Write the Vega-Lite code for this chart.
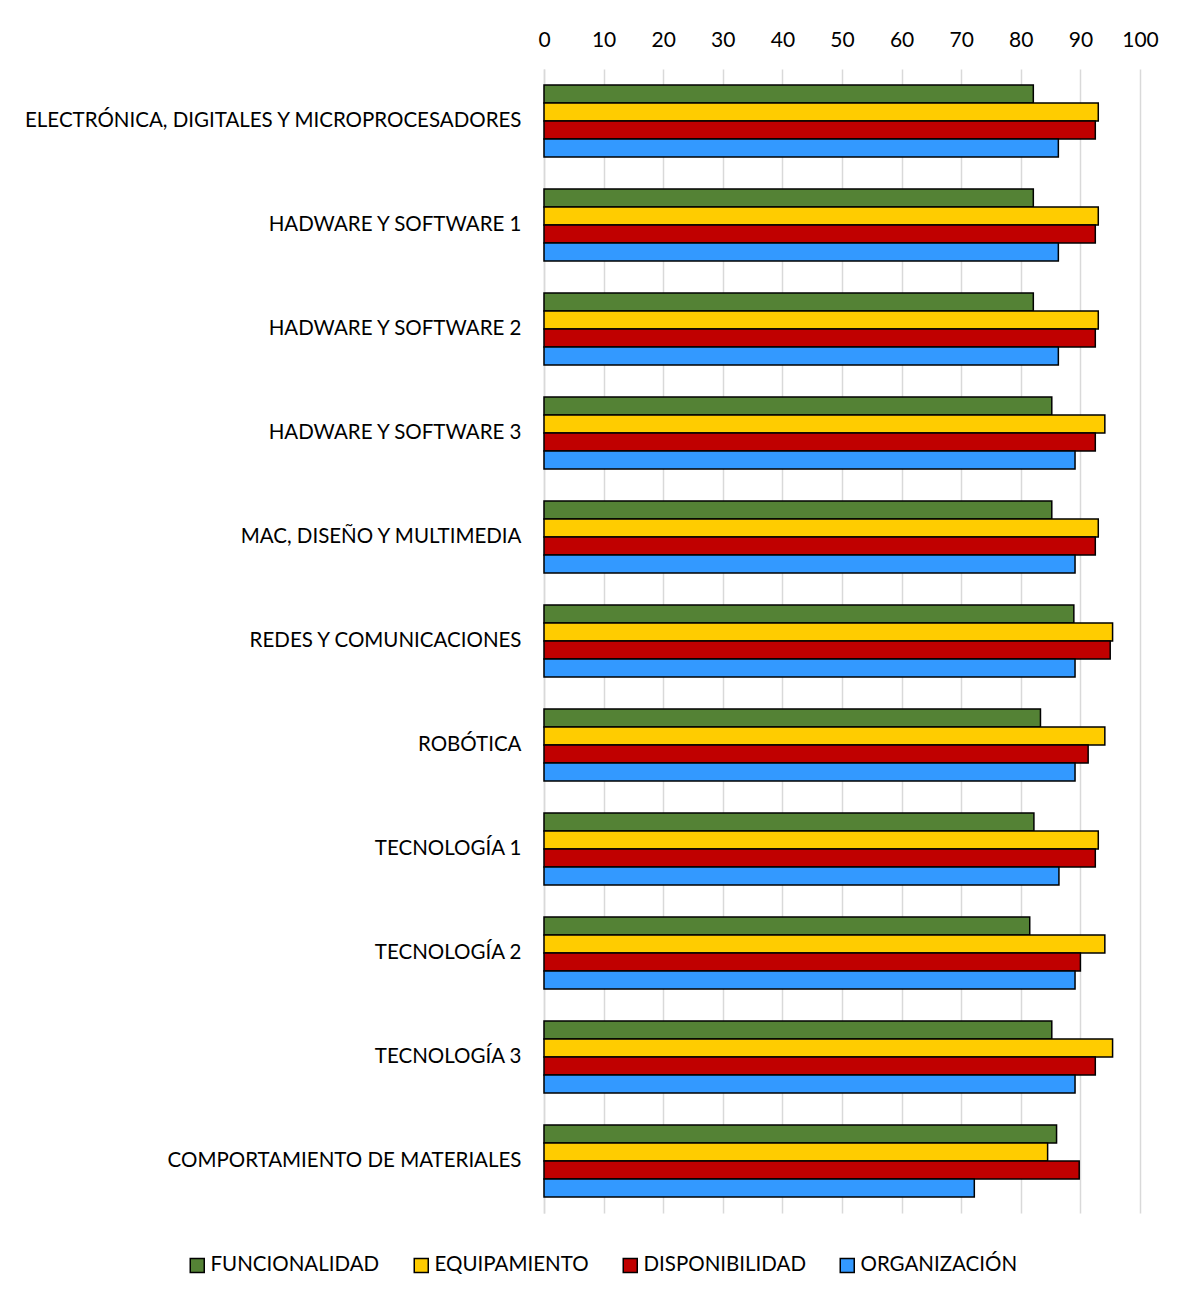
{
  "$schema": "https://vega.github.io/schema/vega-lite/v6.json",
  "autosize": {"type": "none"},
  "width": 596,
  "height": 1144,
  "padding": {"left": 544, "top": 69, "right": 50, "bottom": 84},
  "background": "white",
  "config": {
    "font": "Lato",
    "view": {"stroke": null},
    "axis": {"labelFont": "Lato", "labelColor": "#000000", "labelFontSize": 20.5, "ticks": false, "title": null}
  },
  "data": {
    "values": [
      {"categoria": "ELECTRÓNICA, DIGITALES Y MICROPROCESADORES", "serie": "FUNCIONALIDAD", "valor": 82.1},
      {"categoria": "ELECTRÓNICA, DIGITALES Y MICROPROCESADORES", "serie": "EQUIPAMIENTO", "valor": 93.0},
      {"categoria": "ELECTRÓNICA, DIGITALES Y MICROPROCESADORES", "serie": "DISPONIBILIDAD", "valor": 92.5},
      {"categoria": "ELECTRÓNICA, DIGITALES Y MICROPROCESADORES", "serie": "ORGANIZACIÓN", "valor": 86.3},
      {"categoria": "HADWARE Y SOFTWARE 1", "serie": "FUNCIONALIDAD", "valor": 82.1},
      {"categoria": "HADWARE Y SOFTWARE 1", "serie": "EQUIPAMIENTO", "valor": 93.0},
      {"categoria": "HADWARE Y SOFTWARE 1", "serie": "DISPONIBILIDAD", "valor": 92.5},
      {"categoria": "HADWARE Y SOFTWARE 1", "serie": "ORGANIZACIÓN", "valor": 86.3},
      {"categoria": "HADWARE Y SOFTWARE 2", "serie": "FUNCIONALIDAD", "valor": 82.1},
      {"categoria": "HADWARE Y SOFTWARE 2", "serie": "EQUIPAMIENTO", "valor": 93.0},
      {"categoria": "HADWARE Y SOFTWARE 2", "serie": "DISPONIBILIDAD", "valor": 92.5},
      {"categoria": "HADWARE Y SOFTWARE 2", "serie": "ORGANIZACIÓN", "valor": 86.3},
      {"categoria": "HADWARE Y SOFTWARE 3", "serie": "FUNCIONALIDAD", "valor": 85.2},
      {"categoria": "HADWARE Y SOFTWARE 3", "serie": "EQUIPAMIENTO", "valor": 94.1},
      {"categoria": "HADWARE Y SOFTWARE 3", "serie": "DISPONIBILIDAD", "valor": 92.5},
      {"categoria": "HADWARE Y SOFTWARE 3", "serie": "ORGANIZACIÓN", "valor": 89.1},
      {"categoria": "MAC, DISEÑO Y MULTIMEDIA", "serie": "FUNCIONALIDAD", "valor": 85.2},
      {"categoria": "MAC, DISEÑO Y MULTIMEDIA", "serie": "EQUIPAMIENTO", "valor": 93.0},
      {"categoria": "MAC, DISEÑO Y MULTIMEDIA", "serie": "DISPONIBILIDAD", "valor": 92.5},
      {"categoria": "MAC, DISEÑO Y MULTIMEDIA", "serie": "ORGANIZACIÓN", "valor": 89.1},
      {"categoria": "REDES Y COMUNICACIONES", "serie": "FUNCIONALIDAD", "valor": 88.9},
      {"categoria": "REDES Y COMUNICACIONES", "serie": "EQUIPAMIENTO", "valor": 95.4},
      {"categoria": "REDES Y COMUNICACIONES", "serie": "DISPONIBILIDAD", "valor": 95.0},
      {"categoria": "REDES Y COMUNICACIONES", "serie": "ORGANIZACIÓN", "valor": 89.1},
      {"categoria": "ROBÓTICA", "serie": "FUNCIONALIDAD", "valor": 83.3},
      {"categoria": "ROBÓTICA", "serie": "EQUIPAMIENTO", "valor": 94.1},
      {"categoria": "ROBÓTICA", "serie": "DISPONIBILIDAD", "valor": 91.3},
      {"categoria": "ROBÓTICA", "serie": "ORGANIZACIÓN", "valor": 89.1},
      {"categoria": "TECNOLOGÍA 1", "serie": "FUNCIONALIDAD", "valor": 82.2},
      {"categoria": "TECNOLOGÍA 1", "serie": "EQUIPAMIENTO", "valor": 93.0},
      {"categoria": "TECNOLOGÍA 1", "serie": "DISPONIBILIDAD", "valor": 92.5},
      {"categoria": "TECNOLOGÍA 1", "serie": "ORGANIZACIÓN", "valor": 86.4},
      {"categoria": "TECNOLOGÍA 2", "serie": "FUNCIONALIDAD", "valor": 81.5},
      {"categoria": "TECNOLOGÍA 2", "serie": "EQUIPAMIENTO", "valor": 94.1},
      {"categoria": "TECNOLOGÍA 2", "serie": "DISPONIBILIDAD", "valor": 90.0},
      {"categoria": "TECNOLOGÍA 2", "serie": "ORGANIZACIÓN", "valor": 89.1},
      {"categoria": "TECNOLOGÍA 3", "serie": "FUNCIONALIDAD", "valor": 85.2},
      {"categoria": "TECNOLOGÍA 3", "serie": "EQUIPAMIENTO", "valor": 95.4},
      {"categoria": "TECNOLOGÍA 3", "serie": "DISPONIBILIDAD", "valor": 92.5},
      {"categoria": "TECNOLOGÍA 3", "serie": "ORGANIZACIÓN", "valor": 89.1},
      {"categoria": "COMPORTAMIENTO DE MATERIALES", "serie": "FUNCIONALIDAD", "valor": 86.0},
      {"categoria": "COMPORTAMIENTO DE MATERIALES", "serie": "EQUIPAMIENTO", "valor": 84.5},
      {"categoria": "COMPORTAMIENTO DE MATERIALES", "serie": "DISPONIBILIDAD", "valor": 89.8},
      {"categoria": "COMPORTAMIENTO DE MATERIALES", "serie": "ORGANIZACIÓN", "valor": 72.2}
    ]
  },
  "mark": {"type": "bar", "stroke": "#000000", "strokeWidth": 1.5},
  "encoding": {
    "y": {
      "field": "categoria",
      "type": "nominal",
      "sort": null,
      "scale": {"paddingInner": 0.308, "paddingOuter": 0.154},
      "axis": {"labelPadding": 23, "domainColor": "#d9d9d9", "domainWidth": 1.5, "labelLimit": 600}
    },
    "yOffset": {
      "field": "serie",
      "type": "nominal",
      "sort": ["FUNCIONALIDAD", "EQUIPAMIENTO", "DISPONIBILIDAD", "ORGANIZACIÓN"],
      "scale": {"paddingInner": 0, "paddingOuter": 0}
    },
    "x": {
      "field": "valor",
      "type": "quantitative",
      "scale": {"domain": [0, 100], "nice": false},
      "axis": {
        "orient": "top",
        "values": [0, 10, 20, 30, 40, 50, 60, 70, 80, 90, 100],
        "labelPadding": 19,
        "labelFlush": false,
        "labelFontSize": 21,
        "domain": false,
        "grid": true,
        "gridColor": "#d9d9d9",
        "gridWidth": 1.5
      }
    },
    "fill": {
      "field": "serie",
      "type": "nominal",
      "scale": {
        "domain": ["FUNCIONALIDAD", "EQUIPAMIENTO", "DISPONIBILIDAD", "ORGANIZACIÓN"],
        "range": ["#548235", "#FFCC00", "#C00000", "#3399FF"]
      },
      "legend": {
        "orient": "none",
        "direction": "horizontal",
        "legendX": -357,
        "legendY": 1186,
        "title": null,
        "symbolType": "square",
        "symbolSize": 196,
        "symbolStrokeColor": "#000000",
        "symbolStrokeWidth": 1.5,
        "labelFont": "Lato",
        "labelFontSize": 20.5,
        "labelColor": "#000000",
        "labelOffset": 3,
        "columnPadding": 31,
        "labelLimit": 400
      }
    }
  }
}
